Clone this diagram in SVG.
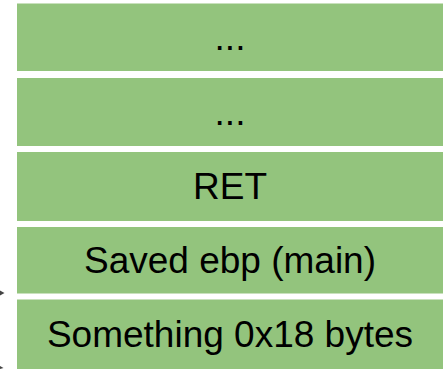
<svg xmlns="http://www.w3.org/2000/svg" width="447" height="369" viewBox="0 0 447 369">
  <style>
    .cell rect { fill: #93c47d; }
    .cell text { font-family: "Liberation Sans", Arial, sans-serif; font-size: 37px; fill: #000; text-anchor: middle; }
    .ptr { fill: #444; }
  </style>
  <rect width="447" height="369" fill="#fff"/>
  <!-- stack frame, highest address at top -->
  <g id="slot-top" class="cell">
    <rect x="17" y="3.5" width="426" height="67.5"/>
    <text x="230" y="50">...</text>
  </g>
  <g id="slot-2" class="cell">
    <rect x="17" y="78" width="426" height="68"/>
    <text x="230" y="125">...</text>
  </g>
  <g id="slot-ret" class="cell">
    <rect x="17" y="152" width="426" height="69"/>
    <text x="230" y="199">RET</text>
  </g>
  <g id="slot-ebp" class="cell">
    <rect x="17" y="227" width="426" height="66.5"/>
    <text x="230" y="273">Saved ebp (main)</text>
  </g>
  <g id="slot-locals" class="cell">
    <rect x="17" y="299.5" width="426" height="69.5"/>
    <text x="230" y="346.5">Something 0x18 bytes</text>
  </g>
  <!-- register pointers entering from the left -->
  <g id="connectors">
    <path class="ptr" d="M0,290.5 L4.5,293 L0,295.5 Z"/>
    <path class="ptr" d="M0,366 L3.5,368 L0,369 Z"/>
  </g>
</svg>
